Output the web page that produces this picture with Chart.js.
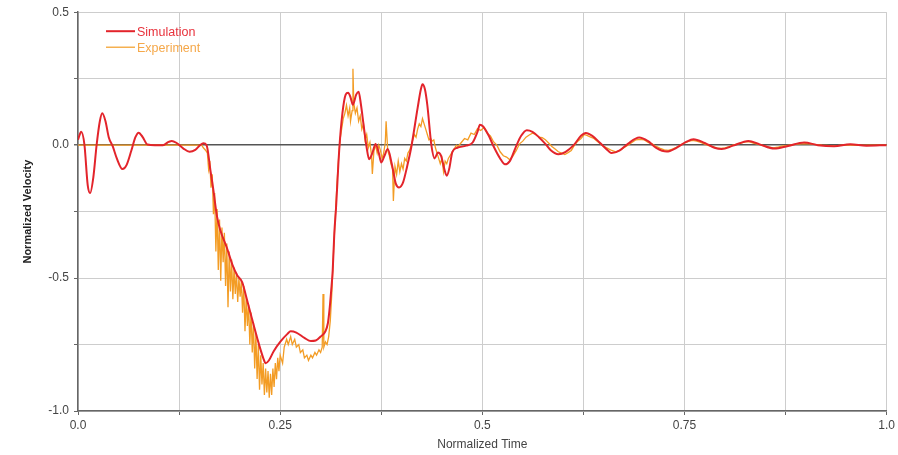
<!DOCTYPE html>
<html>
<head>
<meta charset="utf-8">
<title>Normalized Velocity vs Normalized Time</title>
<script src="https://cdn.jsdelivr.net/npm/chart.js@4.4.0/dist/chart.umd.min.js"></script>
<style>
  html, body { margin: 0; padding: 0; background: #ffffff; }
  #wrap { width: 898px; height: 455px; }
</style>
</head>
<body>
<div id="wrap"><canvas id="chart" width="898" height="455"></canvas></div>
<script>
// ---- Simulation (smooth response) ----
const simTime = [
  0, 0.004, 0.008, 0.012, 0.015, 0.019, 0.023, 0.027, 0.030, 0.034,
  0.038, 0.043, 0.048, 0.055, 0.060, 0.066, 0.071, 0.075, 0.080, 0.086,
  0.095, 0.105, 0.112, 0.116, 0.122, 0.130, 0.138, 0.145, 0.151, 0.155,
  0.159, 0.164, 0.167, 0.172, 0.176, 0.184, 0.191, 0.197, 0.203, 0.208,
  0.214, 0.222, 0.229, 0.232, 0.236, 0.242, 0.250, 0.259, 0.263, 0.270,
  0.280, 0.288, 0.294, 0.300, 0.306, 0.309, 0.311, 0.313, 0.315, 0.317,
  0.319, 0.323, 0.327, 0.331, 0.334, 0.337, 0.340, 0.344, 0.347, 0.350,
  0.353, 0.357, 0.360, 0.364, 0.368, 0.372, 0.375, 0.379, 0.383, 0.388,
  0.393, 0.397, 0.402, 0.407, 0.412, 0.420, 0.424, 0.426, 0.429, 0.432,
  0.437, 0.441, 0.445, 0.449, 0.453, 0.456, 0.459, 0.463, 0.469, 0.480,
  0.488, 0.494, 0.497, 0.501, 0.508, 0.514, 0.522, 0.528, 0.534, 0.541,
  0.548, 0.555, 0.562, 0.570, 0.578, 0.585, 0.594, 0.603, 0.613, 0.622,
  0.628, 0.636, 0.645, 0.656, 0.660, 0.670, 0.680, 0.694, 0.705, 0.715,
  0.728, 0.740, 0.752, 0.761, 0.775, 0.787, 0.796, 0.810, 0.829, 0.843,
  0.861, 0.878, 0.898, 0.915, 0.935, 0.955, 0.975, 1.0
];
const simVel = [
  0.02, 0.05, 0.0, -0.15, -0.18, -0.12, 0.0, 0.09, 0.12, 0.09,
  0.03, -0.005, -0.05, -0.09, -0.075, -0.02, 0.03, 0.047, 0.03, 0.002,
  0.0, 0.0, 0.012, 0.016, 0.008, -0.012, -0.025, -0.018, 0.0, 0.007,
  0.0, -0.10, -0.16, -0.27, -0.32, -0.385, -0.45, -0.49, -0.515, -0.57,
  -0.64, -0.73, -0.80, -0.82, -0.81, -0.775, -0.74, -0.71, -0.70, -0.705,
  -0.725, -0.737, -0.735, -0.72, -0.70, -0.67, -0.62, -0.55, -0.47, -0.33,
  -0.24, -0.02, 0.12, 0.19, 0.197, 0.18, 0.152, 0.19, 0.201, 0.15,
  0.08, -0.01, -0.053, -0.03, 0.004, -0.03, -0.065, -0.04, -0.015, -0.07,
  -0.145, -0.159, -0.14, -0.08, -0.01, 0.14, 0.21, 0.229, 0.21, 0.15,
  0.0, -0.05, -0.028, -0.04, -0.09, -0.115, -0.09, -0.025, -0.01, -0.002,
  0.01, 0.05, 0.077, 0.07, 0.035, -0.005, -0.05, -0.072, -0.06, -0.01,
  0.035, 0.056, 0.05, 0.03, 0.005, -0.02, -0.034, -0.025, 0.0, 0.035,
  0.046, 0.035, 0.01, -0.022, -0.03, -0.02, 0.005, 0.029, 0.015, -0.01,
  -0.024, -0.01, 0.012, 0.022, 0.008, -0.01, -0.015, -0.002, 0.016, 0.003,
  -0.013, -0.003, 0.01, 0.0, -0.004, 0.003, -0.002, 0.0
];

// ---- Experiment (measured, noisy) ----
const expTime = [
  0, 0.153, 0.155, 0.158,
  0.1600, 0.1615, 0.1630, 0.1645, 0.1660, 0.1675, 0.1690, 0.1705, 0.1720, 0.1735,
  0.1750, 0.1765, 0.1780, 0.1795, 0.1810, 0.1825, 0.1840, 0.1855, 0.1870, 0.1885,
  0.1900, 0.1915, 0.1930, 0.1945, 0.1960, 0.1975, 0.1990, 0.2005, 0.2020, 0.2035,
  0.2050, 0.2065, 0.2080, 0.2095, 0.2110, 0.2125, 0.2140, 0.2155, 0.2170, 0.2185,
  0.2200, 0.2215, 0.2230, 0.2245, 0.2260, 0.2275, 0.2290, 0.2305, 0.2320, 0.2335,
  0.2350, 0.2365, 0.2380, 0.2395, 0.2410, 0.2425, 0.2440, 0.2455, 0.2470, 0.2485,
  0.2500,
  0.253, 0.255, 0.258, 0.260, 0.263, 0.265, 0.268, 0.270, 0.273,
  0.275, 0.278, 0.280, 0.283, 0.285, 0.288, 0.290, 0.293, 0.295, 0.298,
  0.300, 0.302, 0.303, 0.304, 0.306, 0.308, 0.310, 0.312, 0.314, 0.316,
  0.318, 0.320, 0.322, 0.324, 0.326, 0.328, 0.330, 0.332, 0.334, 0.336,
  0.337, 0.339, 0.340, 0.341, 0.343, 0.345, 0.347, 0.349, 0.351, 0.353,
  0.355, 0.357, 0.359, 0.361, 0.363, 0.364, 0.366, 0.368, 0.370, 0.372,
  0.374, 0.376, 0.378, 0.380, 0.381, 0.383, 0.385, 0.387, 0.389, 0.390,
  0.392, 0.394, 0.396, 0.398, 0.400, 0.402, 0.404, 0.406, 0.408, 0.410,
  0.412, 0.414, 0.416, 0.418, 0.420, 0.422, 0.424, 0.426, 0.428, 0.430,
  0.432, 0.434, 0.436, 0.438, 0.440, 0.442, 0.444, 0.446, 0.448, 0.450,
  0.452, 0.454, 0.456, 0.458, 0.460, 0.462, 0.464, 0.466, 0.468, 0.470,
  0.474, 0.478, 0.482, 0.486, 0.490, 0.494, 0.498, 0.502, 0.506, 0.510,
  0.514, 0.518, 0.522, 0.526, 0.530, 0.534, 0.538, 0.542, 0.546, 0.550,
  0.554, 0.558, 0.562, 0.566, 0.570, 0.574, 0.578, 0.582, 0.586, 0.590,
  0.594, 0.598, 0.602, 0.606, 0.610, 0.614, 0.618, 0.622, 0.626, 0.630,
  0.634, 0.638, 0.642, 0.646, 0.650, 0.655, 0.660, 0.665, 0.670, 0.675,
  0.680, 0.685, 0.690, 0.695, 0.700, 0.705, 0.710, 0.715, 0.720, 0.725,
  0.730, 0.735, 0.740, 0.745, 0.750, 0.755, 0.760, 0.765, 0.770, 0.775,
  0.780, 0.785, 0.790, 0.795, 0.800, 0.805, 0.810, 0.815, 0.820, 0.825,
  0.830, 0.835, 0.840, 0.845, 0.850, 0.855, 0.860, 0.865, 0.870, 0.875,
  0.880, 0.890, 0.900, 0.910, 0.920, 0.935, 0.950, 0.965, 0.980, 1.0
];
const expVel = [
  0, 0.0, -0.01, -0.02,
  -0.03, -0.09, -0.06, -0.16, -0.11, -0.26, -0.18, -0.40, -0.24, -0.47,
  -0.28, -0.51, -0.31, -0.44, -0.33, -0.53, -0.37, -0.61, -0.40, -0.55,
  -0.43, -0.58, -0.46, -0.56, -0.48, -0.59, -0.50, -0.57, -0.51, -0.63,
  -0.53, -0.70, -0.57, -0.68, -0.60, -0.75, -0.63, -0.78, -0.67, -0.84,
  -0.71, -0.88, -0.75, -0.92, -0.79, -0.90, -0.82, -0.94, -0.84, -0.93,
  -0.85, -0.95, -0.86, -0.94, -0.84, -0.91, -0.82, -0.88, -0.80, -0.85,
  -0.79,
  -0.82, -0.76, -0.73, -0.75, -0.72, -0.75, -0.73, -0.76, -0.75,
  -0.78, -0.77, -0.80, -0.79, -0.81, -0.79, -0.80, -0.78, -0.79, -0.77,
  -0.78, -0.76, -0.56, -0.76, -0.74, -0.75, -0.72, -0.66, -0.55, -0.40,
  -0.28, -0.16, -0.06, 0.02, 0.06, 0.10, 0.12, 0.15, 0.11, 0.14,
  0.09, 0.13, 0.287, 0.16, 0.12, 0.14, 0.09, 0.11, 0.06, 0.08,
  0.02, 0.04, -0.01, 0.01, -0.04, -0.108, -0.02, 0.0, -0.03, 0.0,
  -0.02, -0.05, -0.03, 0.01, 0.09, -0.02, -0.04, -0.07, -0.09, -0.21,
  -0.08, -0.11, -0.06, -0.10, -0.07, -0.09, -0.05, -0.06, -0.03, -0.02,
  0.0, 0.02, 0.04, 0.03, 0.06, 0.08, 0.07, 0.10, 0.08, 0.06,
  0.04, 0.02, 0.025, 0.015, 0.02, -0.01, -0.03, -0.05, -0.07, -0.05,
  -0.10, -0.06, -0.07, -0.05, -0.04, -0.03, -0.02, -0.01, 0.0, -0.005,
  0.01, 0.025, 0.02, 0.045, 0.04, 0.062, 0.055, 0.066, 0.045, 0.035,
  0.012, 0.0, -0.025, -0.04, -0.045, -0.055, -0.04, -0.02, 0.005, 0.015,
  0.03, 0.038, 0.045, 0.04, 0.03, 0.028, 0.02, 0.008, -0.005, -0.015,
  -0.025, -0.03, -0.035, -0.028, -0.02, 0.0, 0.015, 0.025, 0.04, 0.036,
  0.03, 0.025, 0.015, 0.005, -0.005, -0.012, -0.02, -0.025, -0.02, -0.01,
  0.0, 0.01, 0.02, 0.022, 0.02, 0.01, 0.005, -0.005, -0.012, -0.018,
  -0.02, -0.015, -0.008, 0.0, 0.008, 0.014, 0.018, 0.015, 0.01, 0.004,
  -0.002, -0.006, -0.01, -0.012, -0.01, -0.006, 0.0, 0.004, 0.008, 0.012,
  0.013, 0.008, 0.004, 0.0, -0.004, -0.008, -0.01, -0.008, -0.004, -0.002,
  0.0, 0.004, 0.006, 0.003, 0.0, -0.003, 0.001, -0.001, 0.0, 0.0
];

// ---- Axis ticks ----
const xTickValues = [0, 0.25, 0.5, 0.75, 1];
const xTickLabels = ['0.0', '0.25', '0.5', '0.75', '1.0'];
const yTickValues = [0.5, 0, -0.5, -1];
const yTickLabels = ['0.5', '0.0', '-0.5', '-1.0'];

const seriesNames = ['Simulation', 'Experiment'];
const seriesColors = ['#e3242b', '#f39c24'];
const legendTextColors = ['#e8323c', '#f5a84a'];

const FONT = "'Liberation Sans', Arial, sans-serif";

function labelFor(values, labels, v) {
  const i = values.findIndex(t => Math.abs(t - v) < 1e-9);
  return i >= 0 ? labels[i] : '';
}

function toPoints(xs, ys) {
  return xs.map((x, i) => ({ x: x, y: ys[i] }));
}

// Legend drawn inside the plot, top-left
const insideLegend = {
  id: 'insideLegend',
  afterDraw(chart) {
    const ctx = chart.ctx;
    const area = chart.chartArea;
    const x0 = area.left + 28, x1 = area.left + 57;
    const rows = [area.top + 19, area.top + 35];
    ctx.save();
    ctx.font = '12.5px ' + FONT;
    ctx.textBaseline = 'middle';
    ctx.textAlign = 'left';
    seriesNames.forEach((name, i) => {
      ctx.strokeStyle = seriesColors[i];
      ctx.lineWidth = i === 0 ? 2 : 1.2;
      ctx.beginPath();
      ctx.moveTo(x0, rows[i]);
      ctx.lineTo(x1, rows[i]);
      ctx.stroke();
      ctx.fillStyle = legendTextColors[i];
      ctx.fillText(name, x1 + 2, rows[i] + 1);
    });
    ctx.restore();
  }
};

new Chart(document.getElementById('chart'), {
  type: 'line',
  data: {
    datasets: [
      {
        label: seriesNames[0],
        data: toPoints(simTime, simVel),
        borderColor: seriesColors[0],
        borderWidth: 2,
        pointRadius: 0,
        cubicInterpolationMode: 'monotone',
        fill: false
      },
      {
        label: seriesNames[1],
        data: toPoints(expTime, expVel),
        borderColor: seriesColors[1],
        borderWidth: 1.3,
        pointRadius: 0,
        tension: 0,
        fill: false
      }
    ]
  },
  options: {
    responsive: false,
    animation: false,
    devicePixelRatio: 1,
    layout: { padding: { top: 11, right: 9, left: 0, bottom: 0 } },
    plugins: {
      legend: { display: false },
      tooltip: { enabled: false }
    },
    scales: {
      x: {
        type: 'linear',
        min: 0,
        max: 1,
        afterFit(scale) { scale.height = 44; },
        ticks: {
          stepSize: 0.125,
          autoSkip: false,
          maxRotation: 0,
          padding: 3,
          color: '#444',
          font: { family: FONT, size: 12 },
          callback: v => labelFor(xTickValues, xTickLabels, v)
        },
        grid: {
          color: '#cdcdcd',
          lineWidth: 1,
          tickLength: 4,
          tickColor: '#666'
        },
        border: { display: true, color: '#666', width: 1.5 },
        title: {
          display: true,
          text: 'Normalized Time',
          color: '#444',
          font: { family: FONT, size: 12 },
          padding: { top: 0, bottom: 3 }
        }
      },
      y: {
        type: 'linear',
        min: -1,
        max: 0.5,
        afterFit(scale) { scale.width = 78; },
        ticks: {
          stepSize: 0.25,
          autoSkip: false,
          padding: 5,
          color: '#444',
          font: { family: FONT, size: 12 },
          callback: v => labelFor(yTickValues, yTickLabels, v)
        },
        grid: {
          color: ctx => (ctx.tick && Math.abs(ctx.tick.value) < 1e-9) ? '#555' : '#cdcdcd',
          lineWidth: ctx => (ctx.tick && Math.abs(ctx.tick.value) < 1e-9) ? 1.5 : 1,
          tickLength: 4,
          tickColor: '#666'
        },
        border: { display: true, color: '#666', width: 1.5 },
        title: {
          display: true,
          text: 'Normalized Velocity',
          color: '#222',
          font: { family: FONT, size: 11, weight: 'bold' },
          padding: { top: 21, bottom: 0 }
        }
      }
    }
  },
  plugins: [insideLegend]
});
</script>
</body>
</html>
